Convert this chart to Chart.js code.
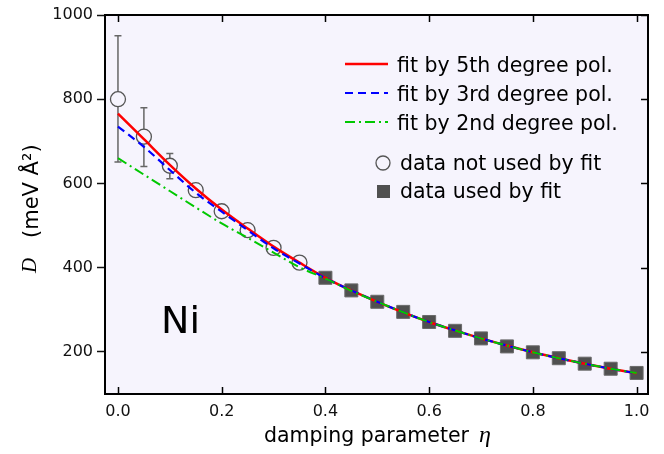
<!DOCTYPE html>
<html>
<head>
<meta charset="utf-8">
<script src="https://cdn.jsdelivr.net/npm/chart.js@4.4.0/dist/chart.umd.min.js"></script>
<style>
  html, body { margin: 0; padding: 0; background: #fff; }
</style>
</head>
<body>
<canvas id="chart" width="664" height="454"></canvas>
<script>
// data not used by fit (open circles)
const etaOpen = [0.0, 0.05, 0.1, 0.15, 0.2, 0.25, 0.3, 0.35];
const dOpen = [800, 711, 642, 584, 534, 489, 447, 412];
// error bars on the first points
const errEta = [0.0, 0.05, 0.1];
const errLow = [651, 640, 611];
const errHigh = [951, 780, 671];
// data used by fit (filled squares)
const etaUsed = [0.4, 0.45, 0.5, 0.55, 0.6, 0.65, 0.7, 0.75, 0.8, 0.85, 0.9, 0.95, 1.0];
const dUsed = [376, 346, 319, 295, 271, 250, 232, 213, 199, 185, 172, 160, 150];
// fit curves
const etaFit = [0.0, 0.05, 0.1, 0.15, 0.2, 0.25, 0.3, 0.35, 0.4, 0.45, 0.5, 0.55, 0.6, 0.65, 0.7, 0.75, 0.8, 0.85, 0.9, 0.95, 1.0];
const fit5 = [766, 705, 644, 588, 538, 493, 450, 412, 376, 346, 319, 294, 271, 251, 232, 215, 199, 185, 172, 160, 149];
const fit3 = [735, 687, 632, 578, 533, 489, 446, 410, 375, 346, 319, 294, 271, 251, 232, 215, 199, 185, 172, 160, 149];
const fit2 = [660, 621, 582, 543, 505, 471, 436, 401, 374, 345, 319, 294, 271, 251, 232, 215, 199, 185, 172, 160, 150];
// ticks
const xTicks = [0.0, 0.2, 0.4, 0.6, 0.8, 1.0];
const yTicks = [200, 400, 600, 800, 1000];

const SANS = 'DejaVu Sans';
const SERIF = 'Liberation Serif';
const plotBg = '#f6f4fd';
const markerGray = '#505050';

const pts = (xs, ys) => xs.map((x, i) => ({ x: x, y: ys[i] }));

const dashes = {
    red: [],
    blue: [8, 5],
    green: [10, 4, 2, 4]
};

const decor = {
    id: 'decor',
    beforeDraw(chart) {
        const { ctx, chartArea: a } = chart;
        ctx.save();
        ctx.fillStyle = '#fff';
        ctx.fillRect(0, 0, chart.width, chart.height);
        ctx.fillStyle = plotBg;
        ctx.fillRect(a.left, a.top, a.right - a.left, a.bottom - a.top);
        ctx.restore();
    },
    beforeDatasetsDraw(chart) {
        const { ctx, scales: { x, y } } = chart;
        ctx.save();
        ctx.strokeStyle = '#666';
        ctx.lineWidth = 1.5;
        errEta.forEach((e, i) => {
            const px = x.getPixelForValue(e);
            const lo = y.getPixelForValue(errLow[i]);
            const hi = y.getPixelForValue(errHigh[i]);
            ctx.beginPath();
            ctx.moveTo(px, lo); ctx.lineTo(px, hi);
            ctx.moveTo(px - 3.5, lo); ctx.lineTo(px + 3.5, lo);
            ctx.moveTo(px - 3.5, hi); ctx.lineTo(px + 3.5, hi);
            ctx.stroke();
        });
        ctx.restore();
    },
    afterDraw(chart) {
        const { ctx, chartArea: a, scales: { x, y } } = chart;
        ctx.save();
        // frame
        ctx.strokeStyle = '#000';
        ctx.lineWidth = 2;
        ctx.strokeRect(a.left, a.top, a.right - a.left, a.bottom - a.top);
        // inward ticks: top, bottom, right
        ctx.lineWidth = 1.5;
        ctx.beginPath();
        xTicks.forEach(t => {
            const px = Math.round(x.getPixelForValue(t)) + 0.5;
            ctx.moveTo(px, a.bottom); ctx.lineTo(px, a.bottom - 7);
            ctx.moveTo(px, a.top); ctx.lineTo(px, a.top + 7);
        });
        yTicks.forEach(t => {
            const py = Math.round(y.getPixelForValue(t)) + 0.5;
            ctx.moveTo(a.right, py); ctx.lineTo(a.right - 7, py);
        });
        ctx.stroke();

        // legend
        ctx.fillStyle = '#000';
        ctx.textBaseline = 'alphabetic';
        ctx.font = '20.5px "' + SANS + '"';
        const lineRows = [
            { color: '#ff0000', dash: dashes.red, w: 2.5, y: 64, text: 'fit by 5th degree pol.' },
            { color: '#0000ff', dash: dashes.blue, w: 2, y: 93, text: 'fit by 3rd degree pol.' },
            { color: '#00c800', dash: dashes.green, w: 2, y: 122, text: 'fit by 2nd degree pol.' }
        ];
        lineRows.forEach(r => {
            ctx.strokeStyle = r.color;
            ctx.lineWidth = r.w;
            ctx.setLineDash(r.dash);
            ctx.beginPath();
            ctx.moveTo(345, r.y); ctx.lineTo(388, r.y);
            ctx.stroke();
            ctx.setLineDash([]);
            ctx.fillText(r.text, 397, r.y + 8);
        });
        // marker rows
        ctx.strokeStyle = '#555';
        ctx.lineWidth = 1.3;
        ctx.fillStyle = plotBg;
        ctx.beginPath();
        ctx.arc(383, 163, 7, 0, Math.PI * 2);
        ctx.fill(); ctx.stroke();
        ctx.fillStyle = markerGray;
        ctx.fillRect(377, 185, 13, 13);
        ctx.fillStyle = '#000';
        ctx.fillText('data not used by fit', 400, 170);
        ctx.fillText('data used by fit', 400, 198);

        // Ni label
        ctx.font = '38px "' + SANS + '"';
        ctx.fillText('Ni', 161, 333);

        // x title
        ctx.font = '20.5px "' + SANS + '"';
        ctx.fillText('damping parameter', 264, 442);
        ctx.font = 'italic 24px "' + SERIF + '"';
        ctx.fillText('\u03b7', 479, 442);

        // y title
        ctx.translate(38, 273);
        ctx.rotate(-Math.PI / 2);
        ctx.font = 'italic 21px "' + SERIF + '"';
        ctx.fillText('D', 0, -2);
        ctx.font = '21px "' + SANS + '"';
        ctx.fillText('(meV \u00c5\u00b2)', 35, 0);
        ctx.restore();
    }
};

new Chart(document.getElementById('chart'), {
    type: 'scatter',
    data: {
        datasets: [
            {
                label: 'fit by 2nd degree pol.',
                data: pts(etaFit, fit2),
                showLine: true,
                borderColor: '#00c800',
                borderWidth: 2,
                borderDash: dashes.green,
                pointRadius: 0,
                cubicInterpolationMode: 'monotone',
                order: 1
            },
            {
                label: 'fit by 3rd degree pol.',
                data: pts(etaFit, fit3),
                showLine: true,
                borderColor: '#0000ff',
                borderWidth: 2.2,
                borderDash: dashes.blue,
                pointRadius: 0,
                cubicInterpolationMode: 'monotone',
                order: 2
            },
            {
                label: 'fit by 5th degree pol.',
                data: pts(etaFit, fit5),
                showLine: true,
                borderColor: '#ff0000',
                borderWidth: 2.5,
                pointRadius: 0,
                cubicInterpolationMode: 'monotone',
                order: 3
            },
            {
                label: 'data not used by fit',
                data: pts(etaOpen, dOpen),
                pointStyle: 'circle',
                pointRadius: 7.5,
                borderColor: '#555',
                backgroundColor: plotBg,
                borderWidth: 1.3,
                order: 4
            },
            {
                label: 'data used by fit',
                data: pts(etaUsed, dUsed),
                pointStyle: 'rect',
                pointRadius: 9.2,
                borderColor: '#6a6a6a',
                backgroundColor: markerGray,
                borderWidth: 1,
                order: 5
            }
        ]
    },
    options: {
        responsive: false,
        animation: false,
        devicePixelRatio: 1,
        layout: { padding: { top: 15, right: 16, left: 0, bottom: 0 } },
        plugins: {
            legend: { display: false },
            tooltip: { enabled: false }
        },
        scales: {
            x: {
                type: 'linear',
                min: -0.025,
                max: 1.022,
                afterBuildTicks: s => { s.ticks = xTicks.map(v => ({ value: v })); },
                afterFit: s => { s.height = 60; },
                ticks: {
                    font: { family: SANS, size: 16 },
                    color: '#111',
                    padding: 8,
                    maxRotation: 0,
                    callback: v => Number(v).toFixed(1)
                },
                grid: { drawOnChartArea: false, drawTicks: false },
                border: { display: false }
            },
            y: {
                type: 'linear',
                min: 100,
                max: 1000,
                afterBuildTicks: s => { s.ticks = yTicks.map(v => ({ value: v })); },
                afterFit: s => { s.width = 105; },
                ticks: {
                    font: { family: SANS, size: 16 },
                    color: '#111',
                    padding: 4,
                    callback: v => String(v)
                },
                grid: {
                    drawOnChartArea: false,
                    drawTicks: true,
                    tickLength: 8,
                    tickColor: '#111',
                    tickWidth: 1.5
                },
                border: { display: false }
            }
        }
    },
    plugins: [decor]
});
</script>
</body>
</html>
